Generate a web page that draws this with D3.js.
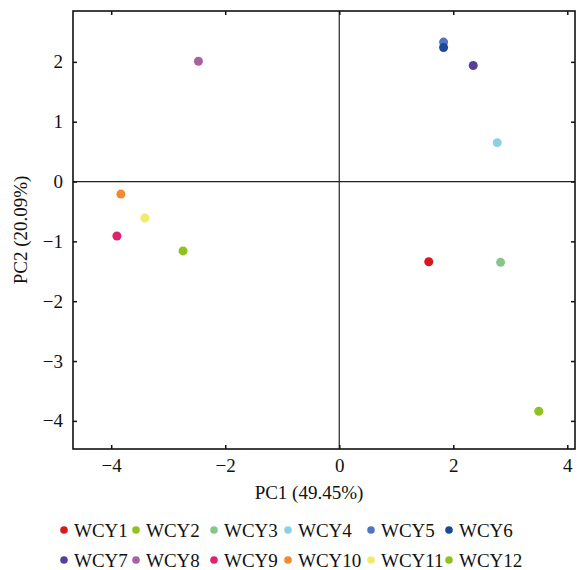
<!DOCTYPE html>
<html>
<head>
<meta charset="utf-8">
<script src="https://cdn.jsdelivr.net/npm/d3@7"></script>
<style>
  body { margin: 0; background: #fff; }
  text { font-family: "Liberation Serif", "Times New Roman", serif; fill: #111; }
</style>
</head>
<body>
<svg id="chart" width="583" height="570"></svg>
<script>
// sample names, PC scores and colours
const samples = ["WCY1","WCY2","WCY3","WCY4","WCY5","WCY6","WCY7","WCY8","WCY9","WCY10","WCY11","WCY12"];
const pc1 = [1.57, 3.50, 2.83, 2.77, 1.83, 1.83, 2.35, -2.47, -3.90, -3.83, -3.41, -2.74];
const pc2 = [-1.34, -3.84, -1.35, 0.65, 2.33, 2.24, 1.94, 2.01, -0.91, -0.21, -0.61, -1.16];
const colors = ["#d7191f","#8dc21f","#86c68b","#8dd0e4","#4f74c4","#1d4898","#5a3f99","#a9619f","#e0216f","#f08a2c","#eeec68","#8dc21f"];
const xTicks = [-4, -2, 0, 2, 4];
const yTicks = [-4, -3, -2, -1, 0, 1, 2];
const xTitle = "PC1 (49.45%)", yTitle = "PC2 (20.09%)";

const svg = d3.select("#chart"),
      margin = {top: 11, right: 8, bottom: 121, left: 73},
      width = 583 - margin.left - margin.right,
      height = 570 - margin.top - margin.bottom;

const x = d3.scaleLinear().domain([-4.67, 4.135]).range([0, width]),
      y = d3.scaleLinear().domain([-4.47, 2.85]).range([height, 0]);

const g = svg.append("g").attr("transform", `translate(${margin.left},${margin.top})`);

// zero lines
g.append("line").attr("x1", 0).attr("x2", width).attr("y1", y(0)).attr("y2", y(0))
  .attr("stroke", "#222").attr("stroke-width", 1.2);
g.append("line").attr("x1", x(0)).attr("x2", x(0)).attr("y1", 0).attr("y2", height)
  .attr("stroke", "#222").attr("stroke-width", 1.2);

// axes with inward ticks
function styleAxis(sel) {
  sel.select(".domain").remove();
  sel.selectAll(".tick line").attr("stroke", "#111").attr("stroke-width", 1.5);
  sel.selectAll(".tick text").style("font-size", "19px").style("font-family", "Liberation Serif, serif").attr("fill", "#111");
}
g.append("g").attr("transform", `translate(0,${height})`)
  .call(d3.axisBottom(x).tickValues(xTicks).tickSizeInner(-4).tickSizeOuter(0).tickPadding(10).tickFormat(d3.format("d")))
  .call(styleAxis);
g.append("g")
  .call(d3.axisTop(x).tickValues(xTicks).tickSizeInner(-4).tickSizeOuter(0).tickFormat(""))
  .call(styleAxis);
g.append("g")
  .call(d3.axisLeft(y).tickValues(yTicks).tickSizeInner(-4).tickSizeOuter(0).tickPadding(10).tickFormat(d3.format("d")))
  .call(styleAxis);
g.append("g").attr("transform", `translate(${width},0)`)
  .call(d3.axisRight(y).tickValues(yTicks).tickSizeInner(-4).tickSizeOuter(0).tickFormat(""))
  .call(styleAxis);

// frame
g.append("rect").attr("width", width).attr("height", height)
  .attr("fill", "none").attr("stroke", "#111").attr("stroke-width", 1.6);

// points
g.selectAll("circle.pt")
  .data(samples.map((s, i) => ({name: s, x: pc1[i], y: pc2[i], c: colors[i]})))
  .join("circle")
  .attr("class", "pt")
  .attr("cx", d => x(d.x))
  .attr("cy", d => y(d.y))
  .attr("r", 4.5)
  .attr("fill", d => d.c);

// axis titles
svg.append("text").attr("x", 309).attr("y", 499).attr("text-anchor", "middle")
  .style("font-size", "19px").text(xTitle);
svg.append("text").attr("transform", `translate(27,${margin.top + height / 2}) rotate(-90)`)
  .attr("text-anchor", "middle").style("font-size", "19px").text(yTitle);

// legend, 6 per row
const colX = [74, 146, 224, 298, 381, 459];
const legend = svg.append("g").selectAll("g")
  .data(samples)
  .join("g")
  .attr("transform", (d, i) => `translate(${colX[i % 6]},${537 + Math.floor(i / 6) * 30})`);
legend.append("circle").attr("cx", -10).attr("cy", -7).attr("r", 3.8).attr("fill", (d, i) => colors[i]);
legend.append("text").style("font-size", "19px").text(d => d);
</script>
</body>
</html>
